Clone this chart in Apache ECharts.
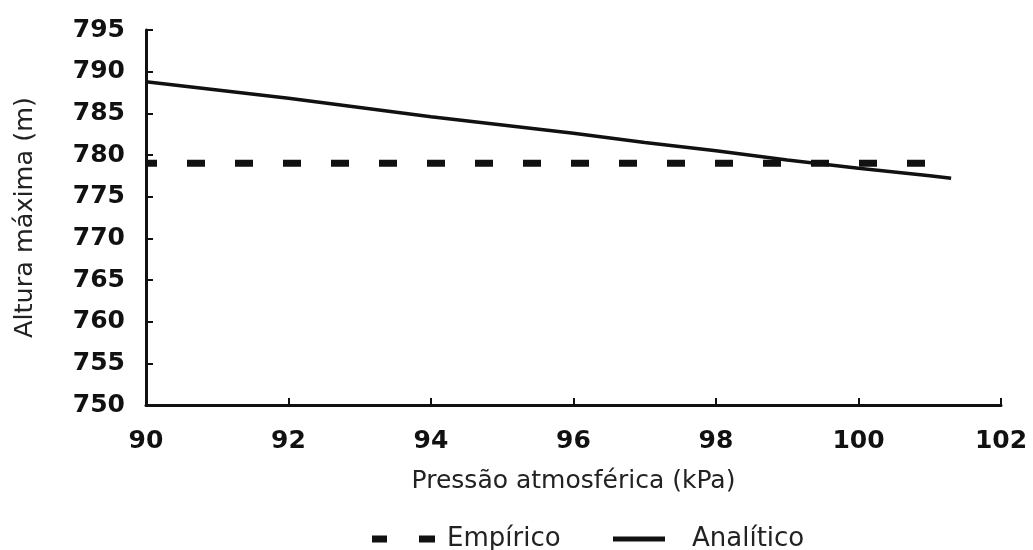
<!DOCTYPE html>
<html><head><meta charset="utf-8">
<script src="https://cdn.jsdelivr.net/npm/echarts@6/dist/echarts.min.js"></script>
<style>html,body{margin:0;padding:0;background:#fff}#c{width:1033px;height:550px}</style>
</head><body><div id="c"></div>
<script>
const pressure = [90, 91, 92, 93, 94, 95, 96, 97, 98, 99, 100, 101, 101.3];
const analitico = [788.8, 787.8, 786.8, 785.7, 784.6, 783.6, 782.6, 781.5, 780.5, 779.4, 778.4, 777.5, 777.2];
const empiricoX = [90, 95, 100.95];
const empirico = [779.0, 779.0, 779.0];
const seriesNames = ['Empírico', 'Analítico'];
const xTitle = 'Pressão atmosférica (kPa)';
const yTitle = 'Altura máxima (m)';

const chart = echarts.init(document.getElementById('c'));
const font = 'DejaVu Sans, sans-serif';
chart.setOption({
  animation: false,
  backgroundColor: '#fff',
  color: ['#111', '#111'],
  grid: {left: 146, right: 32, top: 30, bottom: 145},
  xAxis: {
    type: 'value', min: 90, max: 102, interval: 2,
    name: xTitle, nameLocation: 'middle', nameGap: 64,
    nameTextStyle: {fontFamily: font, fontSize: 25, color: '#222'},
    axisLine: {lineStyle: {color: '#111', width: 3}},
    axisTick: {inside: true, length: 7, lineStyle: {color: '#111', width: 2}},
    axisLabel: {fontFamily: font, fontSize: 25, fontWeight: 'bold', color: '#111', margin: 24},
    splitLine: {show: false}
  },
  yAxis: {
    type: 'value', min: 750, max: 795, interval: 5,
    name: yTitle, nameLocation: 'middle', nameGap: 108,
    nameTextStyle: {fontFamily: font, fontSize: 25.5, color: '#222'},
    axisLine: {show: true, lineStyle: {color: '#111', width: 3}},
    axisTick: {show: true, inside: true, length: 7, lineStyle: {color: '#111', width: 2}},
    axisLabel: {fontFamily: font, fontSize: 25, fontWeight: 'bold', color: '#111', margin: 21},
    splitLine: {show: false}
  },
  legend: [
    {
      left: 372, top: 526, padding: 0, itemWidth: 63, itemHeight: 7, itemGap: 0,
      textStyle: {fontFamily: font, fontSize: 26, color: '#222', padding: [0, 0, 0, 7]},
      data: [{name: seriesNames[0], icon: 'path://M0,0h15v7h-15z M47,0h16v7h-16z'}]
    },
    {
      left: 613, top: 526, padding: 0, itemWidth: 52, itemHeight: 5, itemGap: 0,
      textStyle: {fontFamily: font, fontSize: 26, color: '#222', padding: [0, 0, 0, 22]},
      data: [{name: seriesNames[1], icon: 'rect'}]
    }
  ],
  series: [
    {
      name: seriesNames[0], type: 'line', symbol: 'none',
      data: empiricoX.map((x, i) => [x, empirico[i]]),
      lineStyle: {color: '#111', width: 7, type: [18, 30], dashOffset: 7, cap: 'butt'}
    },
    {
      name: seriesNames[1], type: 'line', symbol: 'none',
      data: pressure.map((x, i) => [x, analitico[i]]),
      lineStyle: {color: '#111', width: 3.5}
    }
  ]
});
</script>
</body></html>
